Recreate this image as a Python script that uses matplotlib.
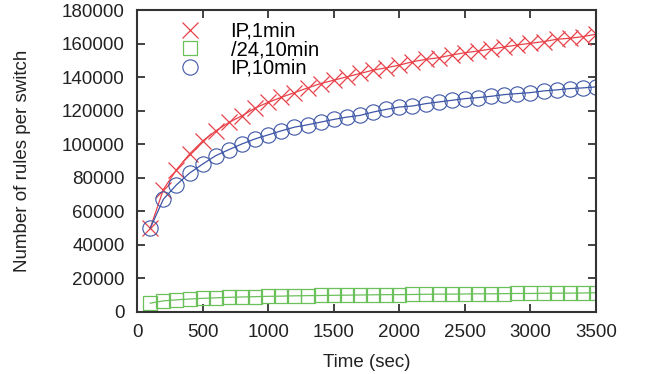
import matplotlib
matplotlib.use('Agg')
import matplotlib.pyplot as plt

plt.rcParams['font.family'] = ['Liberation Sans', 'DejaVu Sans']

time_sec = list(range(100, 3600, 100))

ip_1min = [50000, 73000, 84800, 94200, 102000, 108000, 113000, 117000, 121600, 125000,
           128000, 130800, 133600, 136200, 138200, 140200, 142200, 144200, 145600, 147200,
           149200, 150600, 151600, 153200, 154600, 155600, 156800, 158000, 159200, 160200,
           161200, 162600, 163200, 164200, 165600]

prefix24_10min = [5200, 6600, 7200, 7700, 8100, 8400, 8700, 8900, 9100, 9300,
                  9400, 9600, 9700, 9800, 9900, 10000, 10100, 10200, 10300, 10300,
                  10400, 10500, 10600, 10600, 10700, 10800, 10800, 10900, 11000, 11000,
                  11100, 11200, 11200, 11300, 11400]

ip_10min = [50000, 67200, 75800, 82800, 88200, 93200, 96800, 100200, 103200, 105600,
            108000, 110200, 111600, 113200, 114800, 116200, 117200, 119200, 120800, 122200,
            122800, 124200, 125200, 126200, 127200, 127800, 128600, 129600, 130200, 130800,
            131800, 132400, 133200, 133600, 134200]

fig = plt.figure(figsize=(6.5, 3.74), dpi=100)
ax = fig.add_axes([0.211, 0.166, 0.706, 0.807])

red = '#e8424a'
green = '#6cc05c'
blue = '#3d56a6'
fs = 13.5

ax.plot(time_sec, ip_1min, color=red, lw=0.9, marker='x', ms=11.5, mew=0.9)
ax.plot(time_sec, prefix24_10min, color=green, lw=0.9, marker='s', ms=10,
        mfc='none', mew=0.9)
ax.plot(time_sec, ip_10min, color=blue, lw=0.9, marker='o', ms=11,
        mfc='none', mew=0.8)

# legend: markers only, like gnuplot key
h1 = plt.Line2D([], [], color=red, ls='none', marker='x', ms=11.5, mew=0.9)
h2 = plt.Line2D([], [], color=green, ls='none', marker='s', ms=10, mfc='none', mew=0.9)
h3 = plt.Line2D([], [], color=blue, ls='none', marker='o', ms=11, mfc='none', mew=0.8)
ax.legend([h1, h2, h3], ['IP,1min', '/24,10min', 'IP,10min'], loc='upper left',
          bbox_to_anchor=(0.072, 0.962), frameon=False, fontsize=14.5,
          handlelength=2.0, handletextpad=1.0, labelspacing=-0.02,
          borderaxespad=0, borderpad=0)

ax.set_xlim(0, 3500)
ax.set_ylim(0, 180000)
ax.set_xticks(range(0, 3501, 500))
ax.set_yticks(range(0, 180001, 20000))
ax.tick_params(direction='in', length=6, width=1.2, top=True, right=True,
               labelsize=fs, colors='#222222', pad=9)
for s in ax.spines.values():
    s.set_linewidth(1.5)
    s.set_color('#333333')

ax.set_xlabel('Time (sec)', fontsize=fs, color='#222222', labelpad=9)
ax.set_ylabel('Number of rules per switch', fontsize=fs, color='#222222', labelpad=22)

fig.savefig('out.png', dpi=100)
